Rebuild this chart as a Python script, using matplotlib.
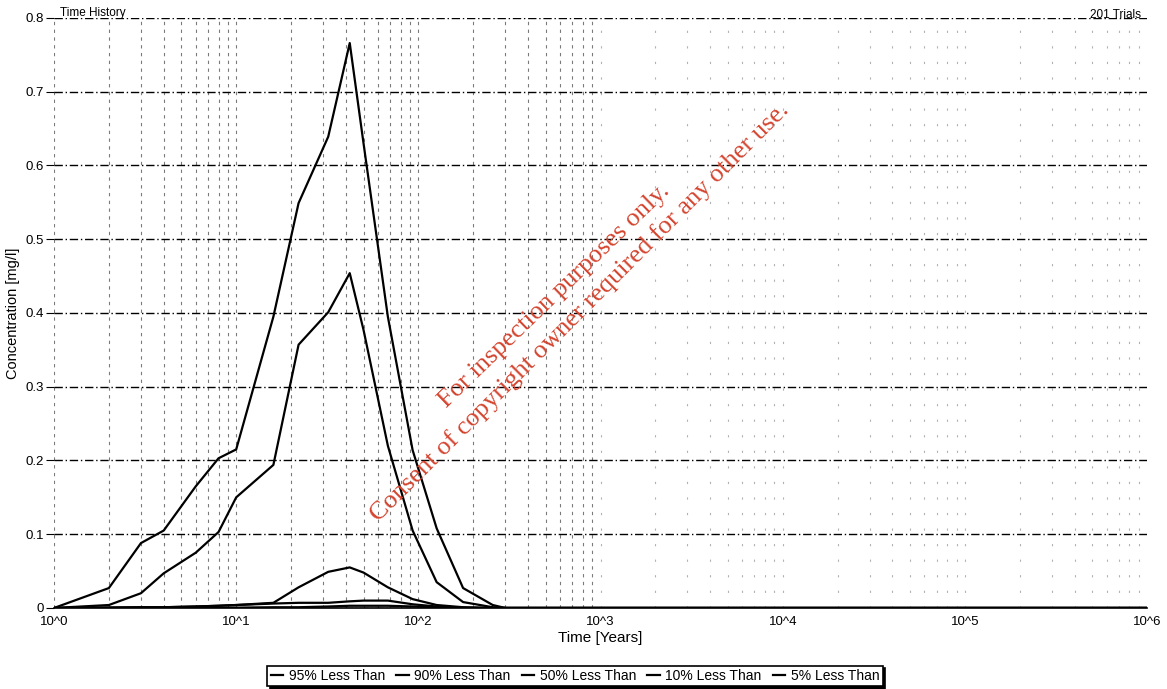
import numpy as np
import matplotlib.pyplot as plt
from matplotlib.ticker import FixedLocator

# time steps (years) and percentile concentrations (mg/l)
years = [1, 2, 3, 4, 6, 8, 10, 16, 22, 32, 42, 50, 68, 93, 126, 176, 256, 300,
         400, 1e3, 1e4, 1e5, 1e6]
p95 = [0, 0.027, 0.088, 0.105, 0.165, 0.203, 0.215, 0.395, 0.549, 0.639, 0.766,
       0.63, 0.395, 0.214, 0.108, 0.027, 0.004, 0, 0, 0, 0, 0, 0]
p90 = [0, 0.004, 0.02, 0.047, 0.075, 0.103, 0.15, 0.194, 0.357, 0.401, 0.454,
       0.377, 0.22, 0.105, 0.035, 0.008, 0.001, 0, 0, 0, 0, 0, 0]
p50 = [0, 0.0005, 0.001, 0.001, 0.002, 0.003, 0.004, 0.007, 0.028, 0.049, 0.055,
       0.048, 0.028, 0.012, 0.004, 0.001, 0, 0, 0, 0, 0, 0, 0]
p10 = [0, 0.0005, 0.001, 0.001, 0.002, 0.003, 0.004, 0.006, 0.007, 0.007, 0.009,
       0.010, 0.010, 0.005, 0.002, 0.0005, 0, 0, 0, 0, 0, 0, 0]
p05 = [0, 0, 0, 0, 0, 0, 0.0005, 0.001, 0.001, 0.002, 0.003,
       0.003, 0.003, 0.002, 0.001, 0, 0, 0, 0, 0, 0, 0, 0]

series = [p95, p90, p50, p10, p05]
labels = ["95% Less Than", "90% Less Than", "50% Less Than", "10% Less Than", "5% Less Than"]
xticks = [1, 10, 100, 1e3, 1e4, 1e5, 1e6]
xticklabels = ["10^0", "10^1", "10^2", "10^3", "10^4", "10^5", "10^6"]
yticks = [0, 0.1, 0.2, 0.3, 0.4, 0.5, 0.6, 0.7, 0.8]
yticklabels = ["0", "0.1", "0.2", "0.3", "0.4", "0.5", "0.6", "0.7", "0.8"]

plt.rcParams["font.family"] = ["Liberation Sans", "DejaVu Sans"]

fig = plt.figure(figsize=(11.67, 6.89), dpi=100)
ax = fig.add_axes([0.0463, 0.1176, 0.9366, 0.8563])

# vertical grid: dashed in the early decades, faint dots further out
for d in range(6):
    for m in range(1, 10):
        x = m * 10.0 ** d
        if x >= 1e6:
            continue
        if d < 3:
            ax.axvline(x, color="0.3", lw=0.8, ls=(0, (3, 4)), alpha=0.75, zorder=0)
        else:
            ax.axvline(x, color="0.4", lw=0.8, ls=(0, (2, 12)), alpha=0.5, zorder=0)

for vals, lab in zip(series, labels):
    ax.plot(years, vals, color="black", lw=1.6, label=lab)

ax.set_xscale("log")
ax.set_xlim(1, 1e6)
ax.set_ylim(0, 0.8)
ax.xaxis.set_major_locator(FixedLocator(xticks))
ax.xaxis.set_minor_locator(FixedLocator([]))
ax.set_xticklabels(xticklabels, fontsize=9.5)
ax.set_yticks(yticks)
ax.set_yticklabels(yticklabels, fontsize=9.5)
ax.tick_params(axis="x", which="both", length=0, pad=6)
ax.tick_params(axis="y", length=6, width=0.8, pad=1)

ax.grid(axis="y", which="major", color="black", lw=1.0, ls=(0, (6, 2, 1, 2)))
ax.set_axisbelow(True)
for s in ["top", "right", "left"]:
    ax.spines[s].set_visible(False)
ax.spines["bottom"].set_linewidth(1.2)

ax.set_xlabel("Time [Years]", fontsize=11, labelpad=2)
ax.set_ylabel("Concentration [mg/l]", fontsize=10.5, labelpad=4)

fig.text(60 / 1167, 1 - 16 / 689, "Time History", fontsize=8.5, ha="left", va="baseline")
fig.text(1141 / 1167, 1 - 18 / 689, "201 Trials", fontsize=8.5, ha="right", va="baseline")

# watermark
wm = dict(family=["Liberation Serif", "DejaVu Serif"], fontsize=19, color="#d4442e",
          ha="left", va="baseline", rotation_mode="anchor")
fig.text(447 / 1167, 1 - 408 / 689, "For inspection purposes only.", rotation=44, **wm)
fig.text(378 / 1167, 1 - 522 / 689, "Consent of copyright owner required for any other use.",
         rotation=45, **wm)

leg = fig.legend(loc="center", bbox_to_anchor=(575 / 1167, 1 - 676 / 689), ncol=5,
                 fontsize=10, frameon=True, fancybox=False, edgecolor="black",
                 handlelength=0.9, handletextpad=0.4, columnspacing=0.8,
                 borderpad=0.25, shadow={"color": "black", "alpha": 1})
leg.get_frame().set_linewidth(1.2)

fig.savefig("out.png", dpi=100)
